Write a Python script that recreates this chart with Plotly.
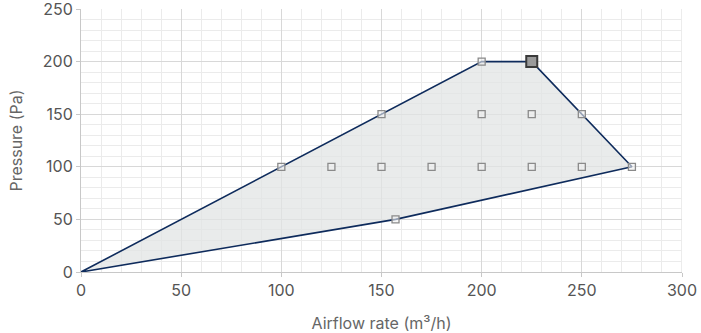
import plotly.graph_objects as go

# Operating envelope polygon (airflow m³/h, pressure Pa)
env_x = [0, 100, 150, 200, 225, 275, 157, 0]
env_y = [0, 100, 150, 200, 200, 100, 50, 0]

# Hollow square markers
pts_x = [100, 150, 200, 275, 157, 125, 150, 175, 200, 225, 250, 200, 225, 250]
pts_y = [100, 150, 200, 100, 50, 100, 100, 100, 100, 100, 100, 150, 150, 150]

# Selected point
sel_x = [225]
sel_y = [200]

x_ticks = [0, 50, 100, 150, 200, 250, 300]
y_ticks = [0, 50, 100, 150, 200, 250]

fig = go.Figure()
fig.add_trace(go.Scatter(
    x=env_x, y=env_y, mode="lines", fill="toself",
    fillcolor="rgba(225,228,228,0.75)",
    line=dict(color="#0e2b5c", width=1.6),
    hoverinfo="skip", showlegend=False))
fig.add_trace(go.Scatter(
    x=pts_x, y=pts_y, mode="markers",
    marker=dict(symbol="square", size=7, color="rgba(240,240,240,0.6)",
                line=dict(color="#8a8a8a", width=1.3)),
    showlegend=False))
fig.add_trace(go.Scatter(
    x=sel_x, y=sel_y, mode="markers",
    marker=dict(symbol="square", size=11, color="#9a9a9a",
                line=dict(color="#3a3a3a", width=2)),
    showlegend=False))

font = dict(family="Inter, Roboto, sans-serif", size=16, color="#555555")
title_font = dict(family="Inter, Roboto, sans-serif", size=16, color="#666666")
fig.update_layout(
    width=701, height=333,
    margin=dict(l=81, r=19, t=9, b=61),
    paper_bgcolor="white", plot_bgcolor="white",
    font=font,
    xaxis=dict(
        range=[0, 300], tickvals=x_ticks, ticktext=[str(v) for v in x_ticks],
        showgrid=True, gridcolor="#d8d8d8", gridwidth=1,
        minor=dict(dtick=10, showgrid=True, gridcolor="#ebebeb", gridwidth=1),
        zeroline=False, showline=True, linecolor="#c8c8c8", linewidth=1,
        mirror=False, ticks="outside", ticklen=4, tickcolor="#c8c8c8",
        ticklabeloverflow="allow", automargin=False,
        title=dict(text="Airflow rate (m³/h)", font=title_font, standoff=18),
        tickfont=font),
    yaxis=dict(
        range=[0, 250.001], tickvals=y_ticks, ticktext=[str(v) for v in y_ticks],
        showgrid=True, gridcolor="#d8d8d8", gridwidth=1,
        minor=dict(dtick=10, showgrid=True, gridcolor="#ebebeb", gridwidth=1),
        zeroline=False, showline=True, linecolor="#c8c8c8", linewidth=1,
        ticks="outside", ticklen=4, tickcolor="#c8c8c8",
        ticklabeloverflow="allow", automargin=False,
        title=dict(text="Pressure (Pa)", font=title_font, standoff=16),
        tickfont=font),
)
fig.add_shape(type="line", xref="x", yref="paper", x0=300, x1=300, y0=0, y1=1,
              line=dict(color="#d8d8d8", width=1), layer="below")

fig.write_html("out.html")
